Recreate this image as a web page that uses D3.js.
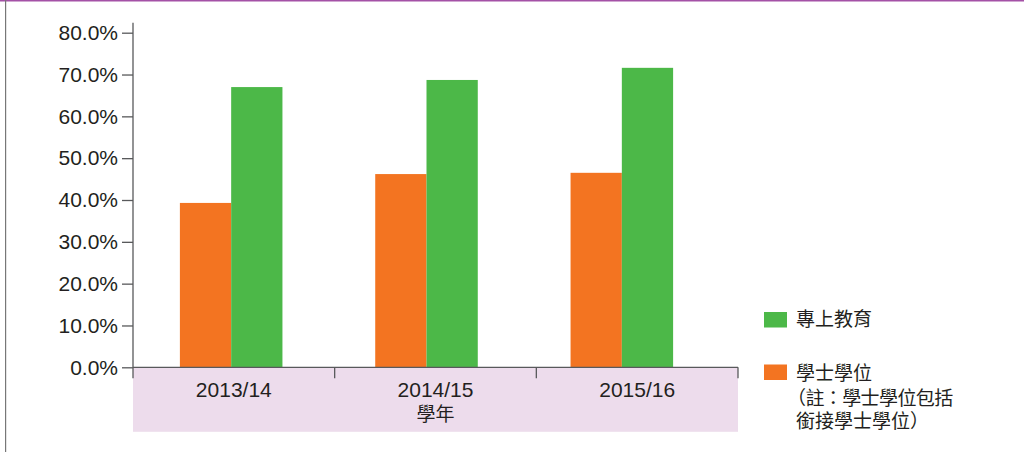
<!DOCTYPE html>
<html>
<head>
<meta charset="utf-8">
<script src="https://cdn.jsdelivr.net/npm/d3@7"></script>
<style>
  html, body { margin: 0; padding: 0; background: #fff; }
  svg { display: block; }
</style>
</head>
<body>
<svg id="chart" width="1024" height="452"></svg>
<script>
const categories = ["2013/14", "2014/15", "2015/16"];
const bachelorValues = [39.3, 46.2, 46.5];      // 學士學位
const postSecondaryValues = [67.0, 68.7, 71.6]; // 專上教育
const yTicks = [0, 10, 20, 30, 40, 50, 60, 70, 80];
const seriesNames = ["學士學位", "專上教育"];
const seriesColors = ["#f37421", "#4cb848"];
const xAxisTitle = "學年";
const legendNote = ["（註：學士學位包括", "銜接學士學位）"];

const svg = d3.select("#chart");
const latin = "'Liberation Sans', Arial, Helvetica, sans-serif";
const cjk = "'Liberation Sans', 'Noto Sans CJK TC', 'Noto Sans CJK SC', sans-serif";
const textColor = "#231f20";
const axisColor = "#58595b";

// frame
svg.append("rect").attr("x", 0).attr("y", 0).attr("width", 1024).attr("height", 1.5).attr("fill", "#a451a6");
svg.append("rect").attr("x", 5).attr("y", 0).attr("width", 1.2).attr("height", 452).attr("fill", "#777");

const y = d3.scaleLinear().domain([0, 80]).range([367.3, 32.7]);
const xCat = d3.scaleBand().domain(categories).range([133, 738]);
const xBar = d3.scaleBand().domain(categories).range([133.5, 719.5]).paddingInner(0.475).paddingOuter(0.2375);
const xSeries = d3.scaleBand().domain(seriesNames).range([0, xBar.bandwidth()]);

// pink band under x axis
svg.append("rect")
  .attr("x", xCat.range()[0]).attr("y", y(0))
  .attr("width", xCat.range()[1] - xCat.range()[0]).attr("height", 64.5)
  .attr("fill", "#eddcec");

// bars
const seriesData = [bachelorValues, postSecondaryValues];
seriesNames.forEach((name, si) => {
  svg.append("g").selectAll("rect")
    .data(categories.map((c, i) => ({ c, v: seriesData[si][i] })))
    .join("rect")
    .attr("x", d => xBar(d.c) + xSeries(name))
    .attr("y", d => y(d.v))
    .attr("width", xSeries.bandwidth())
    .attr("height", d => y(0) - y(d.v))
    .attr("fill", seriesColors[si]);
});

// y axis
const yAxis = d3.axisLeft(y)
  .tickValues(yTicks)
  .tickFormat(d => d3.format(".1f")(d) + "%")
  .tickSize(11).tickSizeOuter(0).tickPadding(4);
const gy = svg.append("g").attr("transform", "translate(133,0)").call(yAxis);
gy.select(".domain").remove();
gy.selectAll(".tick line").attr("stroke", axisColor).attr("stroke-width", 1.3);
gy.selectAll(".tick text").attr("fill", textColor).attr("font-family", latin).attr("font-size", 21);
gy.append("line").attr("x1", 0).attr("x2", 0).attr("y1", y(80) - 10).attr("y2", y(0))
  .attr("stroke", axisColor).attr("stroke-width", 1.3);

// x axis line and ticks at band boundaries
svg.append("line")
  .attr("x1", xCat.range()[0]).attr("x2", xCat.range()[1])
  .attr("y1", y(0)).attr("y2", y(0))
  .attr("stroke", axisColor).attr("stroke-width", 1.3);
const bounds = categories.map(c => xCat(c)).concat([xCat.range()[1]]);
svg.append("g").selectAll("line").data(bounds).join("line")
  .attr("x1", d => d).attr("x2", d => d)
  .attr("y1", y(0)).attr("y2", y(0) + 11)
  .attr("stroke", axisColor).attr("stroke-width", 1.3);

// category labels
svg.append("g").selectAll("text").data(categories).join("text")
  .attr("x", d => xCat(d) + xCat.bandwidth() / 2)
  .attr("y", 397)
  .attr("text-anchor", "middle")
  .attr("font-family", latin).attr("font-size", 21).attr("fill", textColor)
  .text(d => d);
svg.append("text")
  .attr("x", xCat(categories[1]) + xCat.bandwidth() / 2)
  .attr("y", 421)
  .attr("text-anchor", "middle")
  .attr("font-family", cjk).attr("font-size", 19).attr("fill", textColor)
  .text(xAxisTitle);

// legend
const lg = svg.append("g");
lg.append("rect").attr("x", 764).attr("y", 312).attr("width", 23).attr("height", 15.5).attr("fill", seriesColors[1]);
lg.append("text").attr("x", 796).attr("y", 326).attr("font-family", cjk).attr("font-size", 19).attr("fill", textColor).text(seriesNames[1]);
lg.append("rect").attr("x", 764).attr("y", 364.5).attr("width", 23).attr("height", 15.5).attr("fill", seriesColors[0]);
lg.append("text").attr("x", 796).attr("y", 380).attr("font-family", cjk).attr("font-size", 19).attr("fill", textColor).text(seriesNames[0]);
lg.append("text").attr("x", 787).attr("y", 405).attr("font-family", cjk).attr("font-size", 19)
  .attr("letter-spacing", -0.6).attr("fill", textColor).text(legendNote[0]);
lg.append("text").attr("x", 796).attr("y", 428).attr("font-family", cjk).attr("font-size", 19).attr("fill", textColor).text(legendNote[1]);
</script>
</body>
</html>
